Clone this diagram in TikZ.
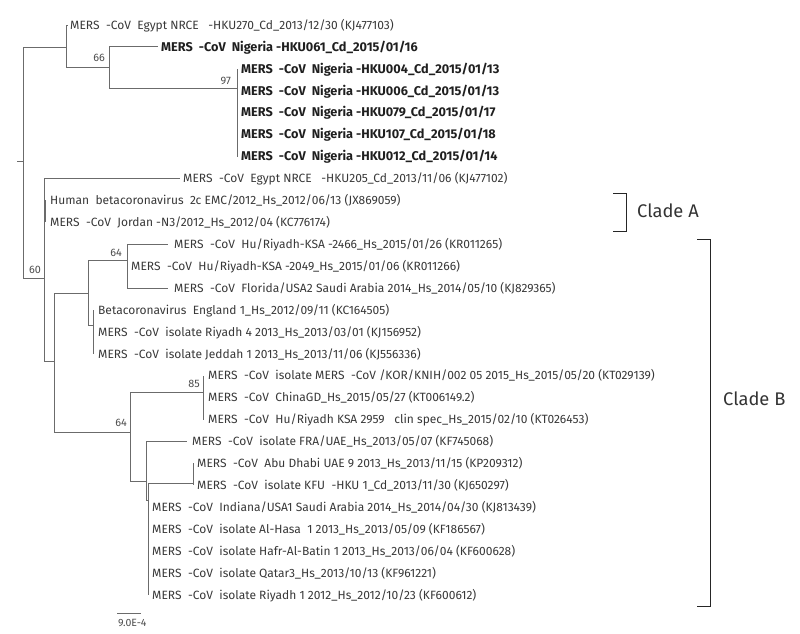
\documentclass[tikz,border=0pt]{standalone}
\usepackage{fontspec}
\setmainfont{Fira Sans}
\newcommand\mersCoV{MERS~~-CoV~~}
\begin{document}
\begin{tikzpicture}[x=1pt,y=-1pt,
  br/.style={draw=black!58, line width=0.9pt},
  leaf/.style={anchor=west, inner sep=0pt, text height=11pt, text depth=2.6pt, font=\fontsize{12}{14}\selectfont, text=black!78},
  bleaf/.style={leaf, font=\fontsize{12.7}{14}\selectfont\bfseries, text=black!88},
  boot/.style={anchor=south east, inner sep=0pt, font=\fontsize{10.8}{12}\selectfont, text=black!70},
  clade/.style={anchor=west, inner sep=0pt, font=\fontsize{18.3}{21}\selectfont, text=black!80},
  brk/.style={draw=black!85, line width=0.9pt}]
\useasboundingbox (0,0) rectangle (800,633);
% internal nodes
\coordinate (R0) at (17,161);
\coordinate (R) at (23,161);
\coordinate (A) at (66,47);
\coordinate (N66) at (109,67);
\coordinate (N97) at (237,88);
\coordinate (B) at (44,278);
\coordinate (CA) at (45.5,211);
\coordinate (C) at (54,361);
\coordinate (D) at (88,293);
\coordinate (N64a) at (127,260);
\coordinate (E) at (93,325);
\coordinate (N64b) at (130,432);
\coordinate (N85) at (203,392);
\coordinate (F) at (146,481);
\coordinate (G) at (148.5,500);
\coordinate (H) at (193,483);
% leaves
\node[leaf] (L1) at (70,25.0) {\mersCoV Egypt NRCE~~~-HKU270\_Cd\_2013/12/30 (KJ477103)};
\node[bleaf] (L2) at (161,46.9) {\mersCoV Nigeria~-HKU061\_Cd\_2015/01/16};
\node[bleaf] (L3) at (241,68.8) {\mersCoV Nigeria -HKU004\_Cd\_2015/01/13};
\node[bleaf] (L4) at (241,90.8) {\mersCoV Nigeria -HKU006\_Cd\_2015/01/13};
\node[bleaf] (L5) at (241,112.7) {\mersCoV Nigeria -HKU079\_Cd\_2015/01/17};
\node[bleaf] (L6) at (241,134.6) {\mersCoV Nigeria -HKU107\_Cd\_2015/01/18};
\node[bleaf] (L7) at (241,156.5) {\mersCoV Nigeria -HKU012\_Cd\_2015/01/14};
\node[leaf] (L8) at (183,178.4) {\mersCoV Egypt NRCE~~~-HKU205\_Cd\_2013/11/06 (KJ477102)};
\node[leaf] (L9) at (50,200.4) {Human~~betacoronavirus~~2c EMC/2012\_Hs\_2012/06/13 (JX869059)};
\node[leaf] (L10) at (50,222.3) {\mersCoV Jordan -N3/2012\_Hs\_2012/04 (KC776174)};
\node[leaf] (L11) at (174,244.2) {\mersCoV Hu/Riyadh-KSA -2466\_Hs\_2015/01/26 (KR011265)};
\node[leaf] (L12) at (131,266.1) {\mersCoV Hu/Riyadh-KSA -2049\_Hs\_2015/01/06 (KR011266)};
\node[leaf] (L13) at (174,288.0) {\mersCoV Florida/USA2 Saudi Arabia 2014\_Hs\_2014/05/10 (KJ829365)};
\node[leaf] (L14) at (98,310.0) {Betacoronavirus~~England 1\_Hs\_2012/09/11 (KC164505)};
\node[leaf] (L15) at (98,331.9) {\mersCoV isolate Riyadh 4 2013\_Hs\_2013/03/01 (KJ156952)};
\node[leaf] (L16) at (98,353.8) {\mersCoV isolate Jeddah 1 2013\_Hs\_2013/11/06 (KJ556336)};
\node[leaf] (L17) at (208,375.7) {\mersCoV isolate MERS~~-CoV /KOR/KNIH/002 05 2015\_Hs\_2015/05/20 (KT029139)};
\node[leaf] (L18) at (208,397.6) {\mersCoV ChinaGD\_Hs\_2015/05/27 (KT006149.2)};
\node[leaf] (L19) at (208,419.5) {\mersCoV Hu/Riyadh KSA 2959~~~clin spec\_Hs\_2015/02/10 (KT026453)};
\node[leaf] (L20) at (192,441.5) {\mersCoV isolate FRA/UAE\_Hs\_2013/05/07 (KF745068)};
\node[leaf] (L21) at (197,463.4) {\mersCoV Abu Dhabi UAE 9 2013\_Hs\_2013/11/15 (KP209312)};
\node[leaf] (L22) at (197,485.3) {\mersCoV isolate KFU~~-HKU 1\_Cd\_2013/11/30 (KJ650297)};
\node[leaf] (L23) at (152,507.2) {\mersCoV Indiana/USA1 Saudi Arabia 2014\_Hs\_2014/04/30 (KJ813439)};
\node[leaf] (L24) at (152,529.1) {\mersCoV isolate Al-Hasa~~1 2013\_Hs\_2013/05/09 (KF186567)};
\node[leaf] (L25) at (152,551.0) {\mersCoV isolate Hafr-Al-Batin 1 2013\_Hs\_2013/06/04 (KF600628)};
\node[leaf] (L26) at (152,573.0) {\mersCoV isolate Qatar3\_Hs\_2013/10/13 (KF961221)};
\node[leaf] (L27) at (152,594.9) {\mersCoV isolate Riyadh 1 2012\_Hs\_2012/10/23 (KF600612)};
% branches
\draw[br] (R0) -- (R);
\draw[br] (R) |- (A);
\draw[br] (R) |- (B);
\draw[br] (A) |- ([xshift=-2pt]L1.west);
\draw[br] (A) |- (N66);
\draw[br] (N66) |- ([xshift=-3pt]L2.west);
\draw[br] (N66) |- (N97);
\foreach \l in {L3,L4,L5,L6,L7} \draw[br] (N97) |- ([xshift=-4pt]\l.west);
\draw[br] (B) |- ([xshift=-3pt]L8.west);
\draw[br] (B) |- (CA);
\draw[br] (B) |- (C);
\foreach \l in {L9,L10} \draw[br] (CA) |- ([xshift=-4.5pt]\l.west);
\draw[br] (C) |- (D);
\draw[br] (C) |- (N64b);
\draw[br] (D) |- (N64a);
\draw[br] (D) |- (E);
\draw[br] (N64a) |- ([xshift=-6pt]L11.west);
\draw[br] (N64a) |- ([xshift=-4pt]L12.west);
\draw[br] (N64a) |- ([xshift=-6pt]L13.west);
\foreach \l in {L14,L15,L16} \draw[br] (E) |- ([xshift=-5pt]\l.west);
\draw[br] (N64b) |- (N85);
\draw[br] (N64b) |- (F);
\foreach \l in {L17,L18,L19} \draw[br] (N85) |- ([xshift=-5pt]\l.west);
\draw[br] (F) |- ([xshift=-5pt]L20.west);
\draw[br] (F) |- (G);
\draw[br] (G) |- (H);
\foreach \l in {L21,L22} \draw[br] (H) |- ([xshift=-4pt]\l.west);
\foreach \l in {L23,L24,L25,L26,L27} \draw[br] (G) |- ([xshift=-3.5pt]\l.west);
% bootstrap values
\node[boot] (b66) at ([xshift=-4pt,yshift=5pt]N66) {66};
\node[boot] (b97) at ([xshift=-6pt,yshift=3pt]N97) {97};
\node[boot] (b60) at ([xshift=-3pt,yshift=4pt]B) {60};
\node[boot] (b64a) at ([xshift=-5pt,yshift=3pt]N64a) {64};
\node[boot] (b64b) at ([xshift=-3pt,yshift=5pt]N64b) {64};
\node[boot] (b85) at ([xshift=-3pt,yshift=4pt]N85) {85};
% scale bar
\coordinate (s1) at (117,613);
\coordinate (s2) at (141,613);
\draw[br] (s1) -- (s2);
\node[anchor=north west, inner sep=0pt, font=\fontsize{10.5}{12}\selectfont, text=black!70] (sl) at (118,619) {9.0E-4};
% clade brackets
\coordinate (a1) at (613,193);
\coordinate (a2) at (626,193);
\coordinate (a3) at (626,231);
\coordinate (a4) at (613,231);
\draw[brk] (a1) -- (a2) -- (a3) -- (a4);
\node[clade] (cladeA) at (637,211) {Clade A};
\coordinate (c1) at (697,239);
\coordinate (c2) at (710,239);
\coordinate (c3) at (710,606);
\coordinate (c4) at (697,606);
\draw[brk] (c1) -- (c2) -- (c3) -- (c4);
\node[clade] (cladeB) at (723,399) {Clade B};
\end{tikzpicture}
\end{document}
